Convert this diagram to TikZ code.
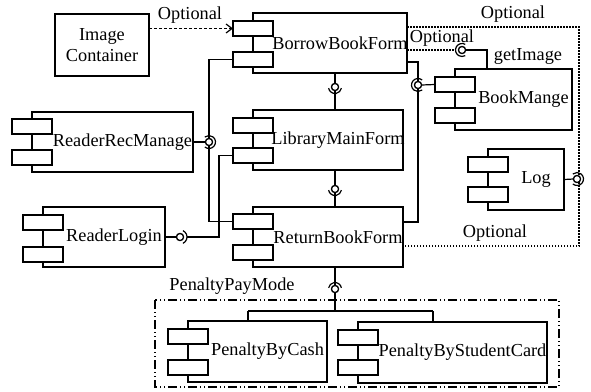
\documentclass[tikz,border=0pt]{standalone}
\usepackage{fontspec}
\setmainfont{Liberation Serif}
\usetikzlibrary{arrows.meta}
\tikzset{
  cbox/.style={draw, line width=1.2pt, inner sep=0pt, outer sep=0pt},
  cport/.style={draw, fill=white, line width=1.2pt, minimum width=40pt, minimum height=15pt, inner sep=0pt, outer sep=0pt},
  lbl/.style={font=\fontsize{18.3}{21.5}\selectfont, inner sep=0pt},
  wire/.style={line width=1.2pt},
  ball/.style={circle, draw, fill=white, line width=1.2pt, minimum size=7pt, inner sep=0pt, outer sep=0pt},
  sock/.style={line width=1.2pt},
  dotline/.style={line width=1.1pt, dash pattern=on 1.5pt off 1.5pt},
  dashline/.style={line width=1.2pt, dash pattern=on 3pt off 2pt},
  groupline/.style={line width=1.1pt, dash pattern=on 9pt off 3pt on 1pt off 3pt on 1pt off 3pt},
}
\newcommand\mycomp[8]{%
  \node[cbox, minimum width={(#4-#2)*1pt}, minimum height={(#5-#3)*1pt}, anchor=north west] (#1) at (#2,#3) {};
  \node[cport, anchor=north] (#1-p1) at (#2,#6) {};
  \node[cport, anchor=north] (#1-p2) at (#2,#7) {};
  \node[lbl] (#1-l) at ({(#2+20+#4)/2},{(#3+#5)/2}) {#8};
}
\newcommand\mysock[4]{% name, start angle, end angle, radius
  \draw[sock] (#1.center) ++(#2:#4) arc[start angle=#2, end angle=#3, radius=#4];
}
\begin{document}
\begin{tikzpicture}[x=1pt, y=-1pt]
\useasboundingbox (0,0) rectangle (591,391);

% components
\node[cbox, minimum width=94pt, minimum height=62pt, anchor=north west] (img) at (55,14) {};
\node[lbl, align=center] (img-l) at (102,45) {Image\\Container};

\mycomp{borrow}{253}{13}{407}{73}{21}{52}{BorrowBookForm}
\mycomp{main}{253}{110}{403}{170}{118}{148}{LibraryMainForm}
\mycomp{ret}{253}{207}{403}{267}{214}{245}{ReturnBookForm}
\mycomp{rrm}{32}{112}{193}{172}{119}{150}{ReaderRecManage}
\mycomp{login}{43}{207}{165}{267}{215}{247}{ReaderLogin}
\mycomp{book}{455}{69}{572}{130}{77}{108}{BookMange}
\mycomp{log}{488}{149}{564}{210}{157}{187}{Log}
\mycomp{cash}{188}{321}{327}{382}{329}{360}{PenaltyByCash}
\mycomp{card}{358}{322}{547}{383}{330}{360}{PenaltyByStudentCard}

% helper coordinates
\coordinate (j1) at (209,0);
\coordinate (j2) at (219,0);
\coordinate (cx) at (335,0);
\coordinate (jr) at (418,0);
\coordinate (jg) at (487,0);
\coordinate (t0) at (335,311);
\coordinate (tl) at (248,311);
\coordinate (tr) at (433,311);

% group frames
\coordinate (o1) at (407,27);
\coordinate (o2) at (579,27);
\coordinate (o3) at (579,246);
\coordinate (o4) at (403,246);
\draw[dotline] (o1) -- (o2) -- (o3) -- (o4);
\coordinate (g1) at (155,300);
\coordinate (g2) at (559,387);
\draw[groupline] (g1) rectangle (g2);

% labels
\node[lbl] (lopt1) at (190,15) {Optional};
\node[lbl] (lopt2) at (513,14) {Optional};
\node[lbl] (lopt3) at (442,38) {Optional};
\node[lbl] (lopt4) at (495,233) {Optional};
\node[lbl] (lget) at (528,56) {getImage};
\node[lbl] (lpen) at (232,286) {PenaltyPayMode};

% sockets (balls)
\node[ball] (srrm) at (209,142) {};
\node[ball] (slog) at (180,237) {};
\node[ball] (sbm) at (335,87) {};
\node[ball] (smr) at (335,189) {};
\node[ball] (spen) at (335,289) {};
\node[ball] (sr) at (418,85) {};
\node[ball] (sg) at (462,50) {};
\node[ball] (sl) at (577,179) {};

% wires
\draw[dashline, -{Straight Barb[length=6pt, width=9pt, line width=1.2pt]}] (img.east |- borrow-p1.west) -- (borrow-p1.west);
\draw[wire] (borrow-p2.west) -- (j1 |- borrow-p2.west) -- (j1 |- ret-p1.west) -- (ret-p1.west);
\draw[wire] (rrm.east) -- (srrm.west);
\draw[wire] (login.east) -- (slog.west);
\draw[wire] ([xshift=7pt]slog.center) -- (j2 |- slog.center) -- (j2 |- main-p2.west) -- (main-p2.west);
\draw[wire] (cx |- borrow.south) -- (cx |- main.north);
\draw[wire] (cx |- main.south) -- (cx |- ret.north);
\draw[wire] (cx |- ret.south) -- (t0);
\draw[wire] (tl) -- (tr);
\draw[wire] (tl) -- (tl |- cash.north);
\draw[wire] (tr) -- (tr |- card.north);
\draw[wire] (borrow.east |- 0,62) -- (jr |- 0,62) -- (jr |- 0,222) -- (ret.east |- 0,222);
\draw[wire] (sr.east) -- (book-p1.west);
\draw[wire] (sg.east) -- (jg |- sg.east) -- (jg |- book.north);
\draw[dotline] (borrow.east |- sg.center) -- ([xshift=-7pt]sg.center);
\draw[wire] (log.east) -- (sl.west);

% redraw balls on top of wires
\node[ball] at (srrm) {};
\node[ball] at (slog) {};
\node[ball] at (sbm) {};
\node[ball] at (smr) {};
\node[ball] at (spen) {};
\node[ball] at (sr) {};
\node[ball] at (sg) {};
\node[ball] at (sl) {};

% socket arcs
\mysock{srrm}{-130}{130}{6.5pt}
\mysock{slog}{-65}{65}{7pt}
\mysock{sbm}{190}{350}{6.5pt}
\mysock{smr}{190}{350}{6.5pt}
\mysock{spen}{10}{170}{6.5pt}
\mysock{sr}{50}{310}{6.5pt}
\mysock{sg}{60}{300}{6.5pt}
\mysock{sl}{-130}{130}{6.5pt}
\end{tikzpicture}
\end{document}
